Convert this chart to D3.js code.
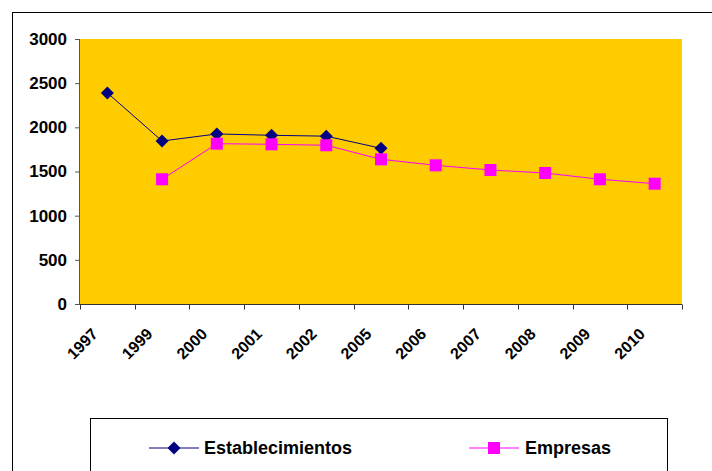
<!DOCTYPE html>
<html><head><meta charset="utf-8">
<script src="https://cdn.jsdelivr.net/npm/d3@7"></script>
<style>
html,body{margin:0;padding:0;background:#fff;}
svg{display:block;font-family:"Liberation Sans",Arial,sans-serif;}
</style></head>
<body>
<svg id="c" width="712" height="471"></svg>
<script>
const years = ["1997","1999","2000","2001","2002","2005","2006","2007","2008","2009","2010"];
const establecimientos = [2390, 1845, 1925, 1910, 1900, 1763, null, null, null, null, null];
const empresas = [null, 1412, 1815, 1808, 1797, 1638, 1570, 1517, 1483, 1412, 1362];
const yTicks = [0, 500, 1000, 1500, 2000, 2500, 3000];
const seriesNames = ["Establecimientos", "Empresas"];

const svg = d3.select("#c");
// outer chart border
svg.append("rect").attr("x",12.5).attr("y",12.5).attr("width",720).attr("height",480)
  .attr("fill","#fff").attr("stroke","#000").attr("stroke-width",1);

const x = d3.scaleBand().domain(years).range([80, 682]);
const y = d3.scaleLinear().domain([0, 3000]).range([304, 39]);

// plot area
svg.append("rect").attr("x",80).attr("y",y(3000)).attr("width",602).attr("height",y(0)-y(3000))
  .attr("fill","#FFCC00");

// y axis
const yAx = svg.append("g").attr("transform","translate(80,0)")
  .call(d3.axisLeft(y).tickValues(yTicks).tickSize(5).tickPadding(8).tickFormat(d3.format("d")));
yAx.select(".domain").attr("stroke","#555").attr("d","M-0.5,"+y(3000)+"V"+(y(0)+0.5));
yAx.selectAll(".tick line").attr("stroke","#555");
yAx.selectAll("text").attr("font-size","17px").attr("font-weight","bold").attr("fill","#000");

// x axis
const xAx = svg.append("g").attr("transform","translate(0,"+(y(0)+0.5)+")")
  .call(d3.axisBottom(x).tickSize(0).tickFormat(""));
xAx.select(".domain").attr("stroke","#333").attr("d","M80,0H682");
// tick marks at band boundaries
const bounds = years.map(d => x(d)).concat([682]);
xAx.selectAll(".bt").data(bounds).enter().append("line").attr("class","bt")
  .attr("x1",d=>Math.round(d)+0.5).attr("x2",d=>Math.round(d)+0.5).attr("y1",0).attr("y2",5).attr("stroke","#333");
xAx.selectAll(".tick text").remove();
svg.append("g").selectAll("text").data(years).enter().append("text")
  .attr("transform", d => "translate(" + (x(d)+x.bandwidth()/2 - 8.5) + ",335) rotate(-45)")
  .attr("text-anchor","end")
  .attr("font-size","16px").attr("font-weight","bold").text(d=>d);

const cx = d => x(d) + x.bandwidth()/2;
const line = d3.line().defined(d => d[1] != null).x(d => cx(d[0])).y(d => y(d[1]));

const estData = years.map((d,i) => [d, establecimientos[i]]);
const empData = years.map((d,i) => [d, empresas[i]]);

svg.append("path").datum(estData).attr("d", line).attr("fill","none").attr("stroke","#000080").attr("stroke-width",1);
svg.append("path").datum(empData).attr("d", line).attr("fill","none").attr("stroke","#FF00FF").attr("stroke-width",1);

const diamond = (cxp, cyp, r) => `M${cxp},${cyp-r}L${cxp+r},${cyp}L${cxp},${cyp+r}L${cxp-r},${cyp}Z`;
svg.append("g").selectAll("path").data(estData.filter(d=>d[1]!=null)).enter().append("path")
  .attr("d", d => diamond(cx(d[0]), y(d[1]), 6.5)).attr("fill","#000080");
svg.append("g").selectAll("rect").data(empData.filter(d=>d[1]!=null)).enter().append("rect")
  .attr("x", d => cx(d[0]) - 6).attr("y", d => y(d[1]) - 6).attr("width",12).attr("height",12)
  .attr("fill","#FF00FF");

// legend
svg.append("rect").attr("x",90.5).attr("y",418.5).attr("width",577).attr("height",80)
  .attr("fill","#fff").attr("stroke","#000").attr("stroke-width",1);
const lg = svg.append("g");
const legY = 448;
lg.append("line").attr("x1",149).attr("x2",199).attr("y1",legY).attr("y2",legY).attr("stroke","#000080");
lg.append("path").attr("d", diamond(174, legY, 6.5)).attr("fill","#000080");
lg.append("text").attr("x",204).attr("y",legY).attr("dy","0.36em").attr("font-size","18px").attr("font-weight","bold").text(seriesNames[0]);
lg.append("line").attr("x1",469).attr("x2",519).attr("y1",legY).attr("y2",legY).attr("stroke","#FF00FF");
lg.append("rect").attr("x",488).attr("y",legY-6).attr("width",12).attr("height",12).attr("fill","#FF00FF");
lg.append("text").attr("x",525).attr("y",legY).attr("dy","0.36em").attr("font-size","18px").attr("font-weight","bold").text(seriesNames[1]);
</script>
</body></html>
